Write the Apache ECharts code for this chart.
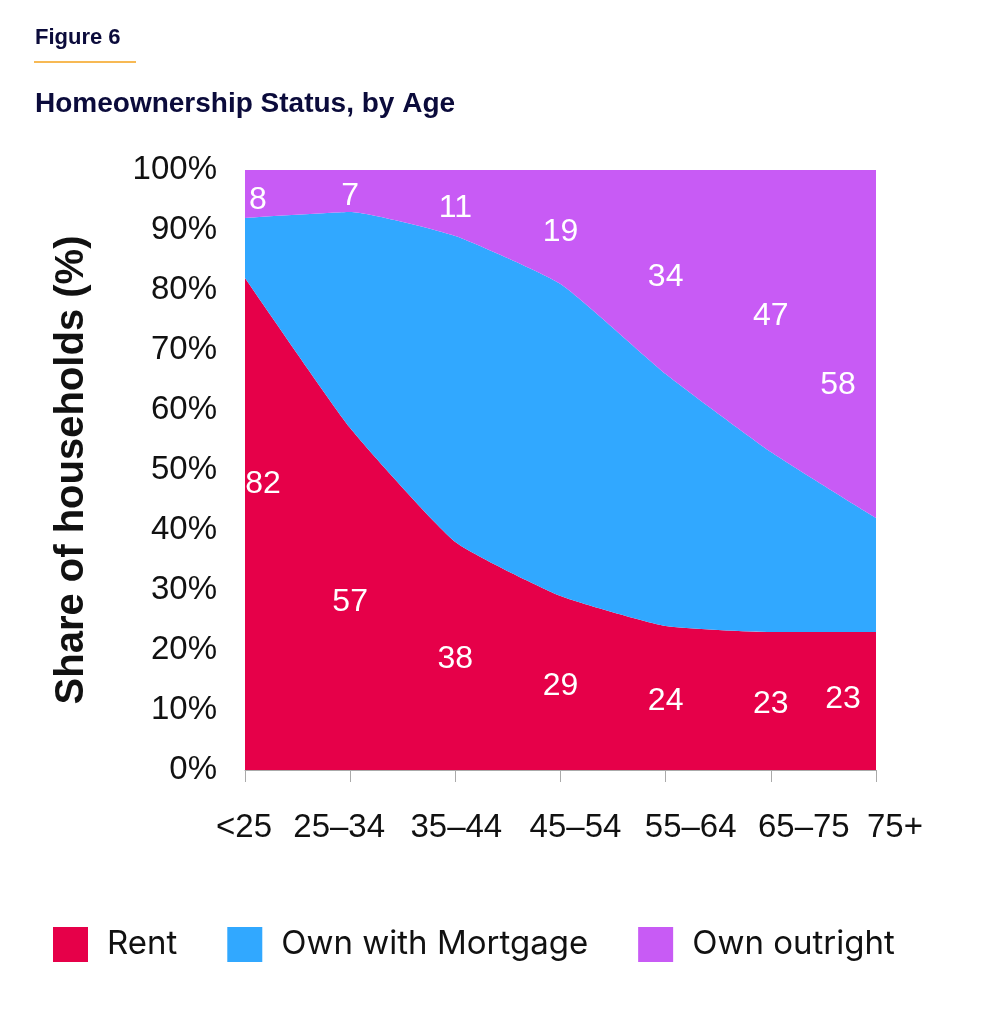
<!DOCTYPE html>
<html>
<head>
<meta charset="utf-8">
<script src="https://cdn.jsdelivr.net/npm/echarts@6/dist/echarts.min.js"></script>
<style>
html,body{margin:0;padding:0;background:#fff;}
#chart{width:981px;height:1028px;}
</style>
</head>
<body>
<div id="chart"></div>
<script>
const categories = ['<25', '25–34', '35–44', '45–54', '55–64', '65–75', '75+'];
const rent = [82, 57, 38, 29, 24, 23, 23];
const mortgage = [10, 36, 51, 52, 42, 30, 19];
const outright = [8, 7, 11, 19, 34, 47, 58];
const seriesNames = ['Rent', 'Own with Mortgage', 'Own outright'];
const colors = ['#E60049', '#31A8FF', '#C85BF5'];

const FONT = '"Liberation Sans", Arial, Helvetica, sans-serif';
const LEGEND_FONT = 'Inter, "Liberation Sans", Arial, sans-serif';
const chart = echarts.init(document.getElementById('chart'));

// layout nudges for x labels (horizontal px shift from tick), style only
const xLabelNudge = [-1, -11, 1, 15, 25, 33, 19];
const xData = categories.map((c, i) => {
  const s = xLabelNudge[i];
  return { value: c, textStyle: { padding: s >= 0 ? [0, 0, 0, 2 * s] : [0, -2 * s, 0, 0] } };
});

// label positions: middle of each band
const rentMid = rent.map(v => v / 2);
const outMid = outright.map(v => 100 - v / 2);
const n = categories.length;
function labelItems(mids, vals, baseOff, firstOff, lastOff) {
  return mids.map((m, i) => {
    let off = baseOff;
    if (i === 0) off = firstOff;
    if (i === n - 1) off = lastOff;
    return { value: [i, m], raw: vals[i], label: { offset: off } };
  });
}
const labelStyle = {
  show: true, position: 'inside', color: '#FFFFFF', opacity: 1,
  textBorderWidth: 0, textShadowBlur: 0,
  fontFamily: FONT, fontSize: 32,
  formatter: p => String(p.data.raw)
};

const option = {
  animation: false,
  title: [
    { text: 'Figure 6', left: 30, top: 22, textStyle: { fontFamily: FONT, fontWeight: 'bold', fontSize: 22, color: '#0B0B3B' } },
    { text: 'Homeownership Status, by Age', left: 30, top: 85, textStyle: { fontFamily: FONT, fontWeight: 'bold', fontSize: 28, color: '#0B0B3B' } }
  ],
  graphic: [
    { type: 'line', shape: { x1: 34, y1: 62, x2: 136, y2: 62 }, style: { stroke: '#F5A21B', lineWidth: 1.5 } }
  ],
  legend: {
    data: seriesNames,
    left: 48, top: 922,
    itemWidth: 35, itemHeight: 35, itemGap: 50,
    icon: 'rect',
    textStyle: { fontFamily: LEGEND_FONT, fontSize: 33, color: '#111', padding: [0, 0, 0, 14] }
  },
  grid: { left: 245, right: 105, top: 170, bottom: 258, containLabel: false },
  xAxis: {
    type: 'category', data: xData, boundaryGap: false,
    axisLine: { show: true, lineStyle: { color: '#AAAAAA', width: 1 } },
    axisTick: { show: true, length: 12, lineStyle: { color: '#AAAAAA' } },
    axisLabel: { fontFamily: FONT, fontSize: 33, color: '#111', margin: 41, interval: 0 },
    splitLine: { show: false }
  },
  yAxis: {
    type: 'value', min: 0, max: 100, interval: 10,
    name: 'Share of households (%)', nameLocation: 'middle', nameGap: 153, nameRotate: 90,
    nameTextStyle: { fontFamily: FONT, fontSize: 40, fontWeight: 'bold', color: '#111' },
    axisLine: { show: false }, axisTick: { show: false }, splitLine: { show: false },
    axisLabel: { fontFamily: FONT, fontSize: 33, color: '#111', margin: 28, formatter: '{value}%' }
  },
  series: [
    { name: 'Rent', type: 'line', stack: 'total', data: rent, smooth: 0.15, symbol: 'none',
      lineStyle: { width: 0 }, areaStyle: { color: colors[0], opacity: 1 }, itemStyle: { color: colors[0] } },
    { name: 'Own with Mortgage', type: 'line', stack: 'total', data: mortgage, smooth: 0.15, symbol: 'none',
      lineStyle: { width: 0 }, areaStyle: { color: colors[1], opacity: 1 }, itemStyle: { color: colors[1] } },
    { name: 'Own outright', type: 'line', stack: 'total', data: outright, smooth: 0.15, symbol: 'none',
      lineStyle: { width: 0 }, areaStyle: { color: colors[2], opacity: 1 }, itemStyle: { color: colors[2] } },
    { name: 'rentLabels', type: 'scatter', symbolSize: 0, itemStyle: { color: colors[0], opacity: 1 }, silent: true, z: 10,
      data: labelItems(rentMid, rent, [0, 3], [18, -40], [-33, -2]),
      label: labelStyle },
    { name: 'outLabels', type: 'scatter', symbolSize: 0, itemStyle: { color: colors[2], opacity: 1 }, silent: true, z: 10,
      data: labelItems(outMid, outright, [0, 5], [13, 6], [-38, 41]),
      label: labelStyle }
  ]
};
chart.setOption(option);
</script>
</body>
</html>
